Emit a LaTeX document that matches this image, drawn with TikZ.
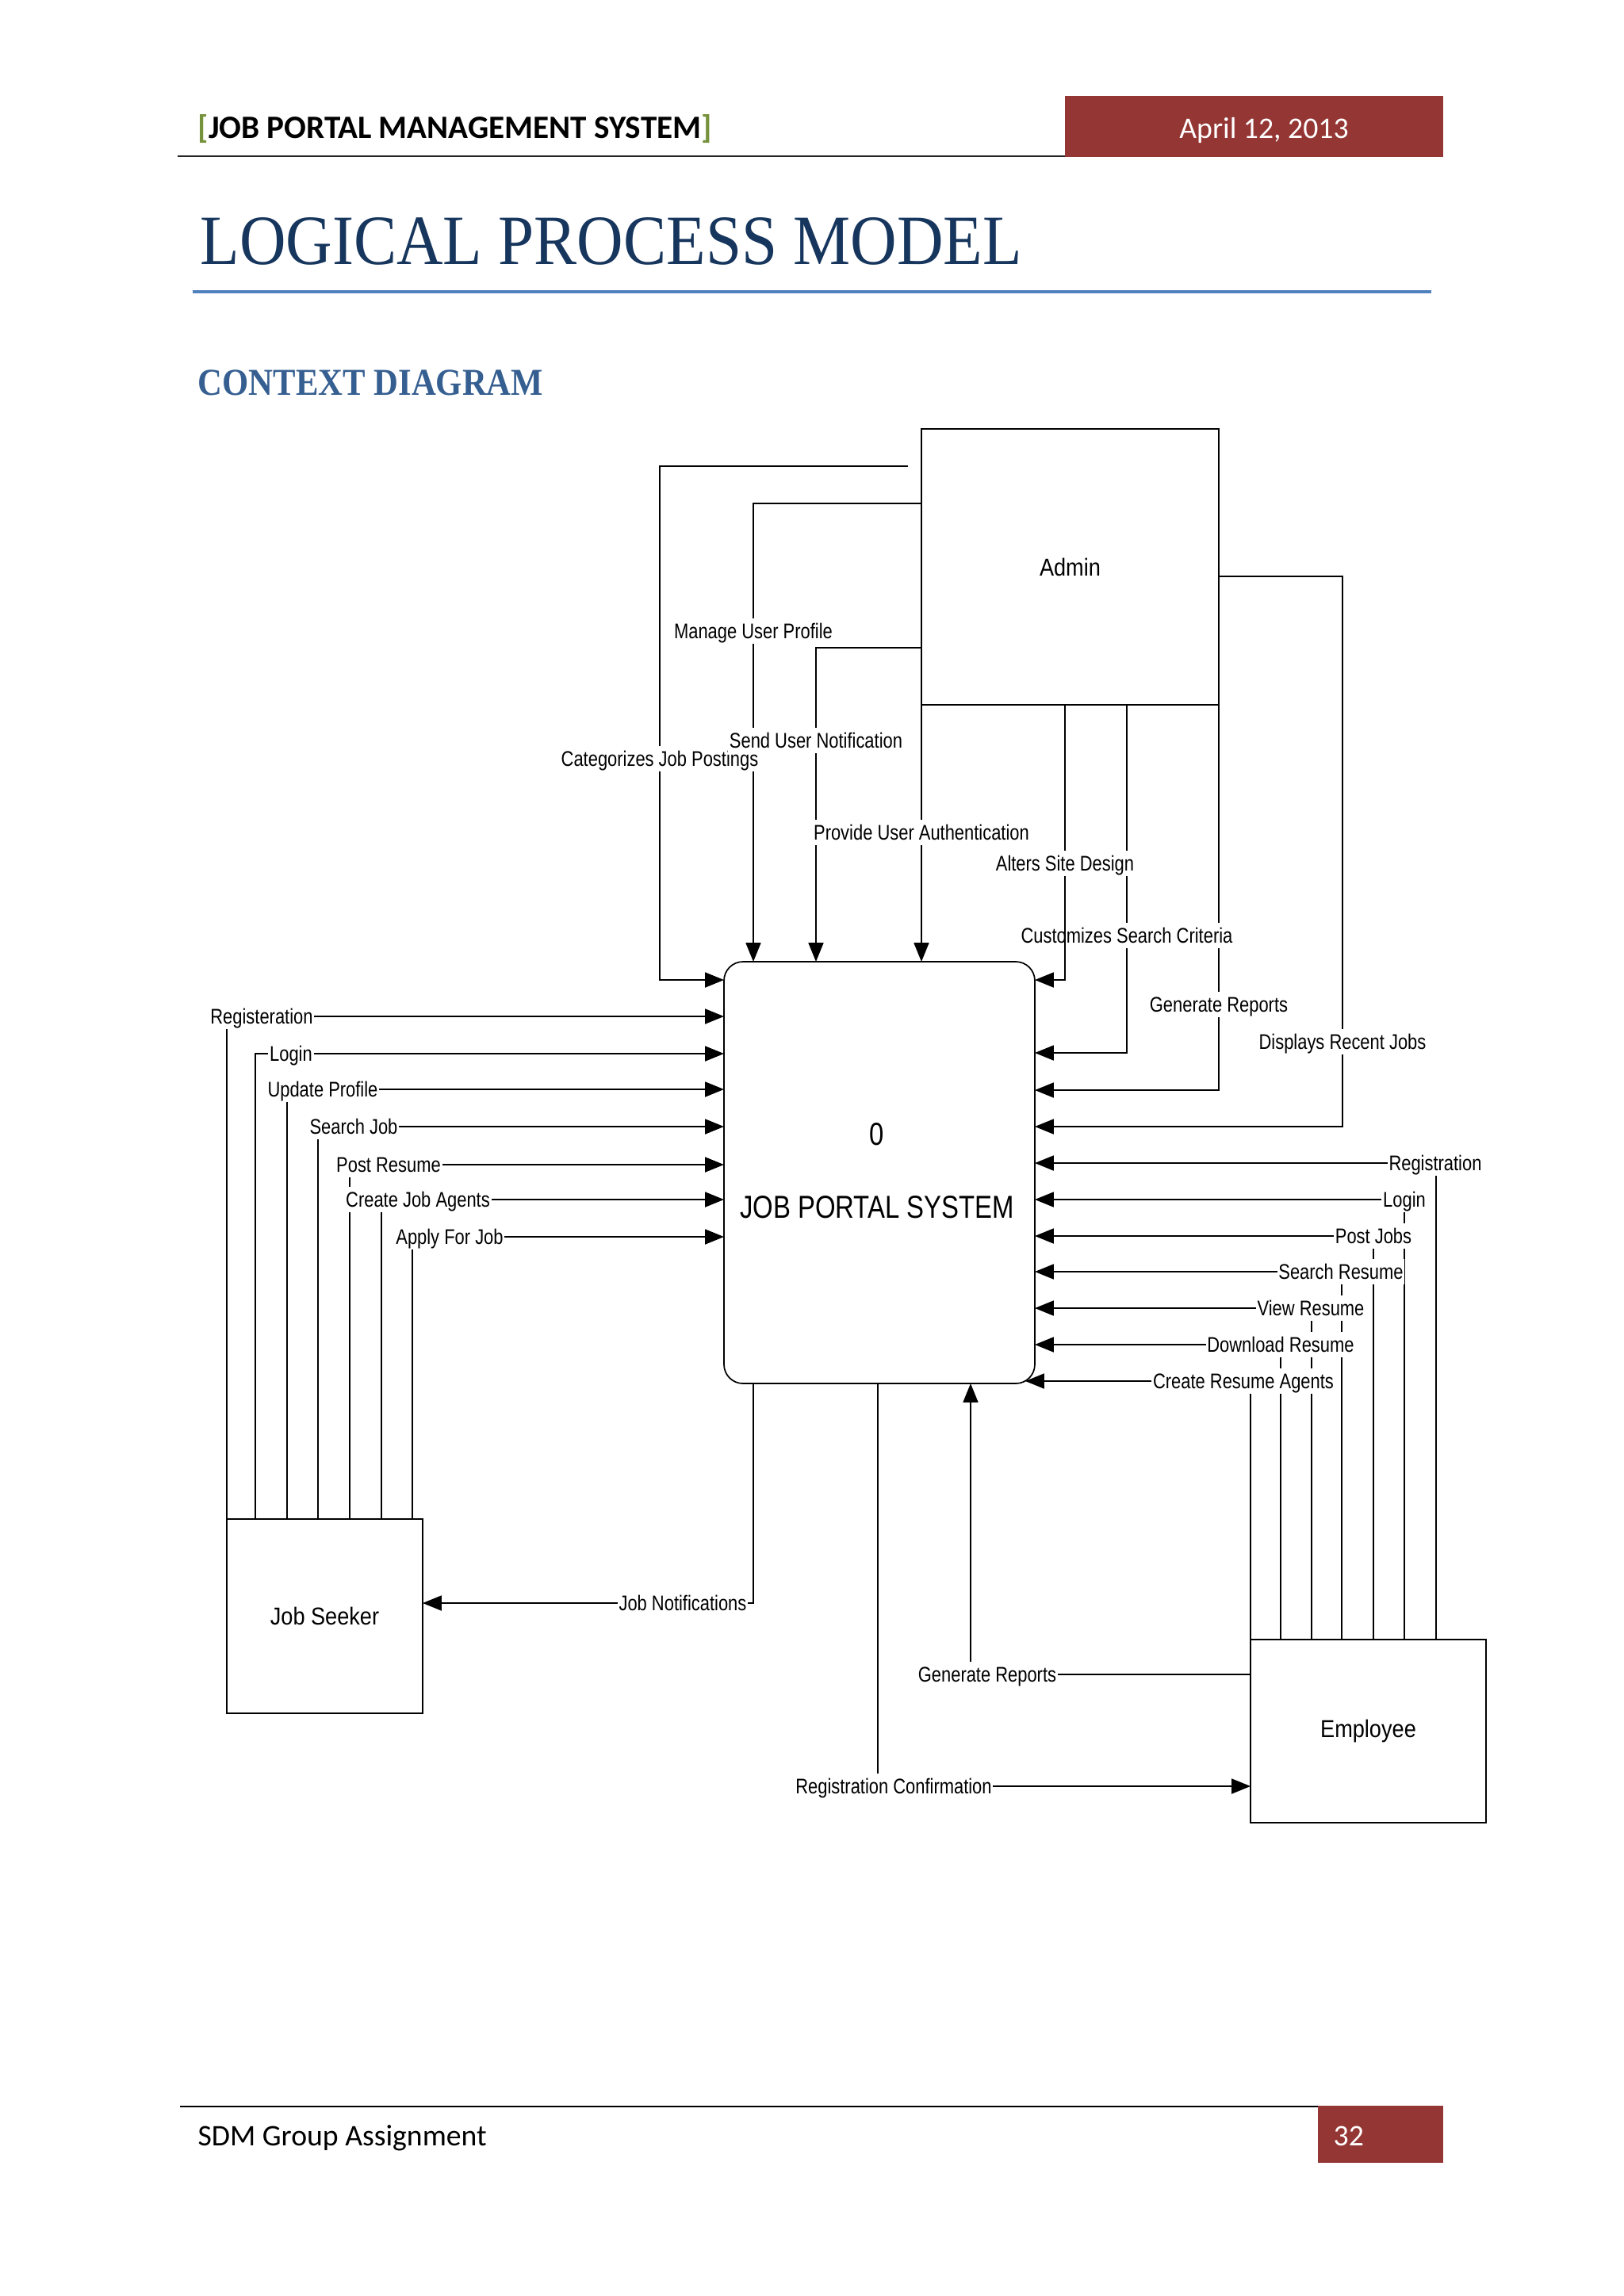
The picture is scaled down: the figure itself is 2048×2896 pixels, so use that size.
\documentclass[tikz,border=0pt]{standalone}
\usepackage{fontspec}
\usepackage{graphicx}
\usetikzlibrary{arrows.meta}
\setmainfont{Liberation Sans}
\newfontfamily\calib{Carlito}
\newfontfamily\cambr{Liberation Serif}
\definecolor{hdrred}{HTML}{943634}
\definecolor{titleblue}{HTML}{17365D}
\definecolor{headblue}{HTML}{365F91}
\definecolor{ruleblue}{HTML}{4F81BD}
\definecolor{brk}{HTML}{76923C}
\newcommand\lbl[1]{\scalebox{0.82}[1]{#1}}
\begin{document}
\begin{tikzpicture}[x=0.10254mm,y=-0.10254mm,
  ent/.style={draw, line width=0.5pt, outer sep=0pt, inner sep=0pt, font=\fontsize{9}{11}\selectfont},
  flow/.style={line width=0.5pt, -{Triangle[length=2.45mm,width=1.95mm]}},
  lab/.style={fill=white, inner xsep=0.5pt, inner ysep=0.8pt, text height=6.5pt, text depth=1pt, font=\fontsize{7.8}{9}\selectfont},
  ptxt/.style={inner sep=0pt, font=\fontsize{11.7}{14}\selectfont},
]
\useasboundingbox (0,0) rectangle (2048,2896);
\fill[white] (0,0) rectangle (2048,2896);

% ---------- page header ----------
\draw[line width=0.6pt, black!85] (224,197) -- (1343,197);
\fill[hdrred] (1343,121) rectangle (1820,198);
\node[anchor=base west, inner sep=0pt, font=\calib\bfseries\fontsize{12}{14}\selectfont] (hdr) at (249,174)
  {{\color{brk}[}JOB PORTAL MANAGEMENT SYSTEM{\color{brk}]}};
\node[anchor=base, inner sep=0pt, text=white, font=\calib\fontsize{11}{13}\selectfont] (date) at (1594,174) {April 12, 2013};
\node[anchor=base west, inner sep=0pt, text=titleblue, font=\cambr\fontsize{26}{30}\selectfont] (title) at (252,333)
  {\scalebox{0.91}[1]{LOGICAL PROCESS MODEL}};
\draw[line width=0.9pt, ruleblue] (243,368) -- (1805,368);
\node[anchor=base west, inner sep=0pt, text=headblue, font=\cambr\bfseries\fontsize{14}{16}\selectfont] (sub) at (249,498)
  {\scalebox{0.89}[1]{CONTEXT DIAGRAM}};

% ---------- page footer ----------
\draw[line width=0.8pt, black] (227,2657) -- (1662,2657);
\fill[hdrred] (1662,2656) rectangle (1820,2728);
\node[anchor=base west, inner sep=0pt, font=\calib\fontsize{11}{13}\selectfont] (foot) at (249,2706) {SDM Group Assignment};
\node[anchor=base west, inner sep=0pt, text=white, font=\calib\fontsize{11}{13}\selectfont] (pnumber) at (1681,2706) {32};

% ---------- entities ----------
\node[ent, minimum width=375*0.10254mm, minimum height=348*0.10254mm] (admin) at (1349.5,715) {\scalebox{0.88}[1]{Admin}};
\node[ent, rounded corners=2.46mm, minimum width=392*0.10254mm, minimum height=532*0.10254mm] (proc) at (1109,1479) {};
\node[ptxt] (pnum) at (1106,1431) {\scalebox{0.82}[1]{0}};
\node[ptxt] (pname) at (1106,1523) {\scalebox{0.82}[1]{JOB PORTAL SYSTEM}};
\node[ent, minimum width=247*0.10254mm, minimum height=245*0.10254mm] (seeker) at (409.5,2038.5) {\scalebox{0.88}[1]{Job Seeker}};
\node[ent, minimum width=297*0.10254mm, minimum height=231*0.10254mm] (employee) at (1725.5,2183.5) {\scalebox{0.88}[1]{Employee}};

\coordinate (catstart) at (1145,588);
\coordinate (crcorner) at (1293,1742);

% ---------- admin flows ----------
\draw[flow] (catstart) -- (832,588) -- (832,1236) -- (proc.west |- 0,1236);
\draw[flow] (admin.west |- 0,635) -- (950,635) -- (proc.north -| 950,0);
\draw[flow] (admin.west |- 0,817) -- (1029,817) -- (proc.north -| 1029,0);
\draw[flow] (admin.south west) -- (proc.north -| admin.west);
\draw[flow] (admin.south -| 1421,0) -- (1421,1328) -- (proc.east |- 0,1328);
\draw[flow] (admin.south east) -- (1537,1375) -- (proc.east |- 0,1375);
\draw[flow] (admin.east |- 0,727) -- (1693,727) -- (1693,1421) -- (proc.east |- 0,1421);

% ---------- job seeker flows ----------
\draw[flow] (seeker.north west) -- (286,1282) -- (proc.west |- 0,1282);
\draw[flow] (seeker.north -| 322,0) -- (322,1329) -- (proc.west |- 0,1329);
\draw[flow] (seeker.north -| 362,0) -- (362,1374) -- (proc.west |- 0,1374);
\draw[flow] (seeker.north -| 401,0) -- (401,1421) -- (proc.west |- 0,1421);
\draw[flow] (seeker.north -| 441,0) -- (441,1469) -- (proc.west |- 0,1469);
\draw[flow] (seeker.north -| 481,0) -- (481,1513) -- (proc.west |- 0,1513);
\draw[flow] (seeker.north -| 520,0) -- (520,1560) -- (proc.west |- 0,1560);

% ---------- employee flows ----------
\draw[flow] (employee.north -| 1811,0) -- (1811,1467) -- (proc.east |- 0,1467);
\draw[flow] (employee.north -| 1771,0) -- (1771,1513) -- (proc.east |- 0,1513);
\draw[flow] (employee.north -| 1732,0) -- (1732,1559) -- (proc.east |- 0,1559);
\draw[flow] (employee.north -| 1692,0) -- (1692,1604) -- (proc.east |- 0,1604);
\draw[flow] (employee.north -| 1654,0) -- (1654,1650) -- (proc.east |- 0,1650);
\draw[flow] (employee.north -| 1615,0) -- (1615,1696) -- (proc.east |- 0,1696);
\draw[flow] (employee.north west) -- (1577,1742) -- (crcorner);

% ---------- outputs ----------
\draw[flow] (proc.south -| 950,0) -- (950,2022) -- (seeker.east |- 0,2022);
\draw[flow] (proc.south -| 1107,0) -- (1107,2253) -- (employee.west |- 0,2253);
\draw[flow] (employee.west |- 0,2112) -- (1224,2112) -- (proc.south -| 1224,0);

% ---------- labels ----------
\node[lab] (lCat) at (832,957) {\lbl{Categorizes Job Postings}};
\node[lab] (lMan) at (950,796) {\lbl{Manage User Profile}};
\node[lab] (lSend) at (1029,934) {\lbl{Send User Notification}};
\node[lab] (lAuth) at (1162,1050) {\lbl{Provide User Authentication}};
\node[lab] (lCus) at (1421,1180) {\lbl{Customizes Search Criteria}};
\node[lab] (lGenA) at (1537,1267) {\lbl{Generate Reports}};
\node[lab] (lDisp) at (1693,1314) {\lbl{Displays Recent Jobs}};

\node[lab] (lReg) at (330,1282) {\lbl{Registeration}};
\node[lab] (lLog) at (367,1329) {\lbl{Login}};
\node[lab] (lUpd) at (407,1374) {\lbl{Update Profile}};
\node[lab] (lSJ) at (446,1421) {\lbl{Search Job}};
\node[lab] (lPR) at (490,1469) {\lbl{Post Resume}};
\node[lab] (lCJA) at (527,1513) {\lbl{Create Job Agents}};
\node[lab] (lAFJ) at (567,1560) {\lbl{Apply For Job}};

\node[lab] (rReg) at (1810,1467) {\lbl{Registration}};
\node[lab] (rLog) at (1771,1513) {\lbl{Login}};
\node[lab] (rPJ) at (1732,1559) {\lbl{Post Jobs}};
\node[lab] (rSR) at (1691,1604) {\lbl{Search Resume}};
\node[lab] (rVR) at (1653,1650) {\lbl{View Resume}};
\node[lab] (rDR) at (1615,1696) {\lbl{Download Resume}};
\node[lab] (rCRA) at (1568,1742) {\lbl{Create Resume Agents}};

\node[lab] (bJN) at (861,2022) {\lbl{Job Notifications}};
\node[lab] (bGR) at (1245,2112) {\lbl{Generate Reports}};
\node[lab] (bRC) at (1127,2253) {\lbl{Registration Confirmation}};

% drawn over the "Customizes" label, as in the reference, then its own label
\draw[flow] (admin.south -| 1343,0) -- (1343,1236) -- (proc.east |- 0,1236);
\node[lab] (lAlt) at (1343,1089) {\lbl{Alters Site Design}};
\end{tikzpicture}
\end{document}
